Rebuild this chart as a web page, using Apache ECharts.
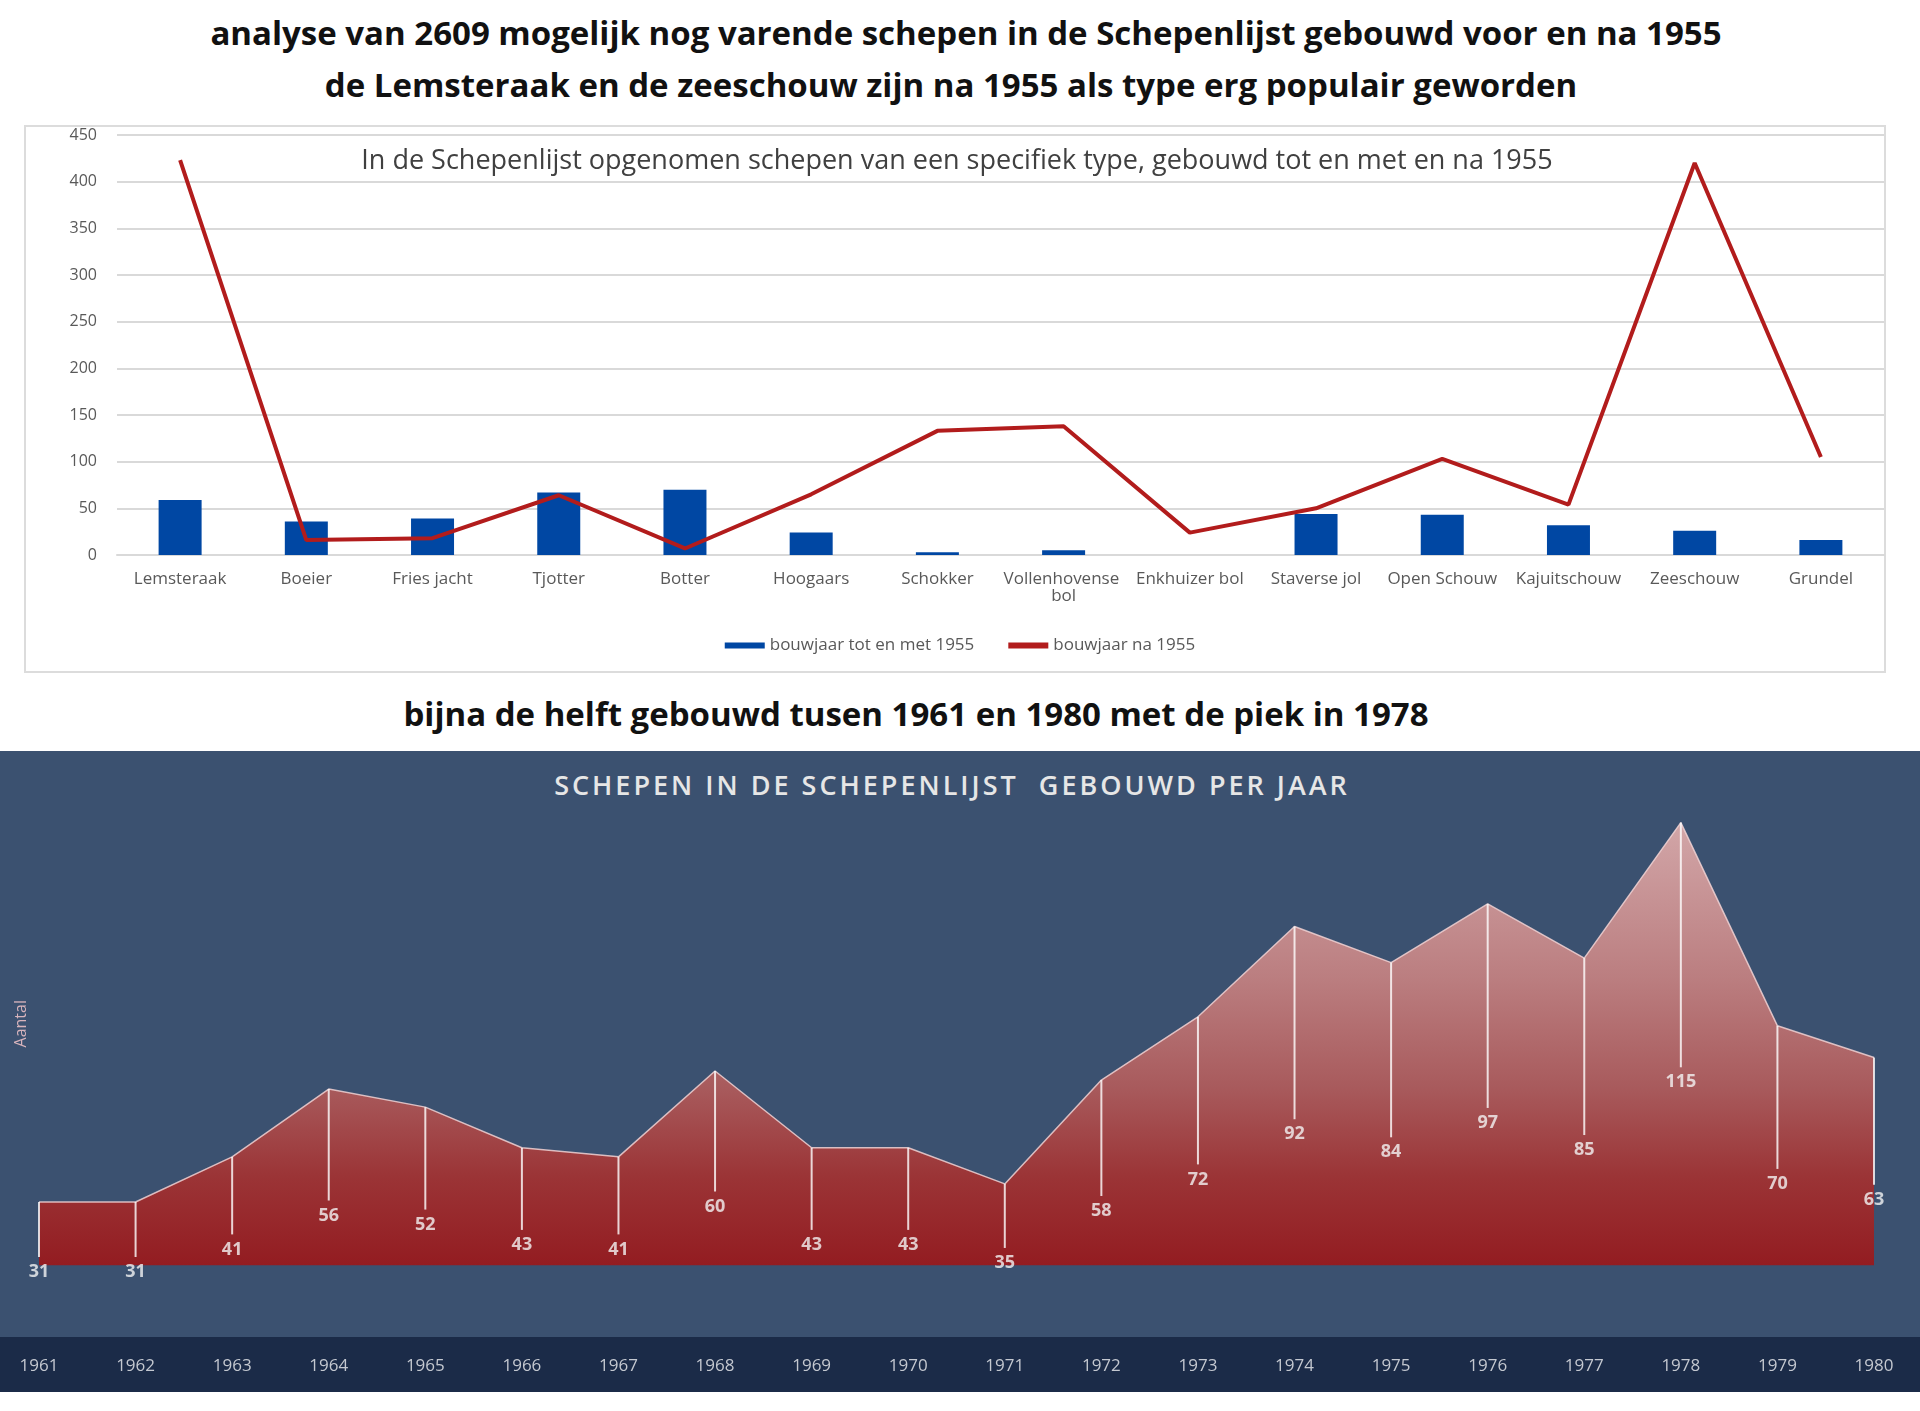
<!DOCTYPE html>
<html>
<head>
<meta charset="utf-8">
<script src="https://cdn.jsdelivr.net/npm/echarts@6/dist/echarts.min.js"></script>
<style>
    body { margin: 0; width: 1920px; height: 1411px; background: #fff; position: relative; overflow: hidden; font-family: "Open Sans", sans-serif; }
    .kop { position: absolute; left: 0; width: 1920px; text-align: center; font-weight: 700; font-size: 33px; color: #111; white-space: nowrap; }
    #kader { position: absolute; left: 24px; top: 125px; width: 1858px; height: 544px; border: 2px solid #dcdcdc; }
    #paneel { position: absolute; left: 0; top: 751px; width: 1920px; height: 641px; background: #3b5170; }
    #band { position: absolute; left: 0; top: 1337px; width: 1920px; height: 55px; background: #1b2b48; }
    #paneelTitel { position: absolute; left: -8px; top: 766px; width: 1920px; text-align: center; font-size: 27px; font-weight: 600; letter-spacing: 3px; color: #e6e6e6; white-space: nowrap; }
    #chart { position: absolute; left: 0; top: 0; width: 1920px; height: 1411px; }
</style>
</head>
<body>
<div class="kop" style="top: 10px; left: 6px;">analyse van 2609 mogelijk nog varende schepen in de Schepenlijst gebouwd voor en na 1955</div>
<div class="kop" style="top: 62px; left: -9px;">de Lemsteraak en de zeeschouw zijn na 1955 als type erg populair geworden</div>
<div id="kader"></div>
<div class="kop" style="top: 691px; left: -44px;">bijna de helft gebouwd tusen 1961 en 1980 met de piek in 1978</div>
<div id="paneel"></div>
<div id="band"></div>
<div id="paneelTitel">SCHEPEN IN DE SCHEPENLIJST&nbsp; GEBOUWD PER JAAR</div>
<div id="chart"></div>
<script>
// scheepstypen (bovenste grafiek)
var typen = ["Lemsteraak", "Boeier", "Fries jacht", "Tjotter", "Botter", "Hoogaars", "Schokker",
    "Vollenhovense bol", "Enkhuizer bol", "Staverse jol", "Open Schouw", "Kajuitschouw", "Zeeschouw", "Grundel"];
var totEnMet1955 = [59, 36, 39, 67, 70, 24, 3, 5, 0, 44, 43, 32, 26, 16];
var na1955 = [423, 16, 18, 64, 7, 65, 133, 138, 24, 50, 103, 54, 420, 105];

// bouwjaren (onderste grafiek)
var jaren = ["1961", "1962", "1963", "1964", "1965", "1966", "1967", "1968", "1969", "1970",
    "1971", "1972", "1973", "1974", "1975", "1976", "1977", "1978", "1979", "1980"];
var aantal = [31, 31, 41, 56, 52, 43, 41, 60, 43, 43, 35, 58, 72, 92, 84, 97, 85, 115, 70, 63];

var grijs = "#595959";
var lijnKleur = "#d9d9d9";

var myChart = echarts.init(document.getElementById("chart"));
var option = {
    animation: false,
    title: [{
        text: "In de Schepenlijst opgenomen schepen van een specifiek type, gebouwd tot en met en na 1955",
        left: 952,
        textAlign: "center",
        top: 143,
        textStyle: { fontFamily: "Open Sans", fontWeight: "normal", fontSize: 27, color: "#404040" }
    }],
    legend: {
        data: [
            { name: "bouwjaar tot en met 1955", icon: "rect" },
            { name: "bouwjaar na 1955", icon: "rect" }
        ],
        left: "center",
        top: 632,
        itemWidth: 40,
        itemHeight: 6,
        itemGap: 34,
        textStyle: { fontFamily: "Open Sans", fontSize: 17, color: grijs }
    },
    graphic: [{
        type: "text",
        left: 13,
        top: 1000,
        rotation: Math.PI / 2,
        style: { text: "Aantal", fill: "#d8b4bc", fontSize: 16, fontFamily: "Open Sans" }
    }],
    grid: [
        { left: 117, right: 36, top: 135, bottom: 856 },
        { left: 39, right: 46, top: 800, bottom: 69 }
    ],
    xAxis: [{
        type: "category",
        gridIndex: 0,
        data: typen,
        axisLine: { lineStyle: { color: lijnKleur, width: 2 } },
        axisTick: { show: false },
        axisLabel: { color: grijs, fontSize: 17, fontFamily: "Open Sans", margin: 16, interval: 0, width: 124, overflow: "break" }
    }, {
        type: "category",
        gridIndex: 1,
        data: jaren,
        boundaryGap: false,
        axisLine: { show: false },
        axisTick: { show: false },
        axisLabel: { color: "#c4c8d0", fontSize: 17, fontFamily: "Open Sans", margin: 16 }
    }],
    yAxis: [{
        type: "value",
        gridIndex: 0,
        min: 0,
        max: 450,
        interval: 50,
        axisLine: { show: false },
        axisTick: { show: false },
        axisLabel: { color: grijs, fontSize: 16, fontFamily: "Open Sans", margin: 20 },
        splitLine: { lineStyle: { color: lijnKleur, width: 2 } }
    }, {
        type: "value",
        gridIndex: 1,
        min: 0,
        max: 120,
        axisLine: { show: false },
        axisTick: { show: false },
        axisLabel: { show: false },
        splitLine: { show: false }
    }],
    series: [{
        name: "bouwjaar tot en met 1955",
        type: "bar",
        xAxisIndex: 0,
        yAxisIndex: 0,
        barWidth: 43,
        itemStyle: { color: "#0047a3" },
        data: totEnMet1955
    }, {
        name: "bouwjaar na 1955",
        type: "line",
        xAxisIndex: 0,
        yAxisIndex: 0,
        symbol: "none",
        lineStyle: { color: "#b21c1c", width: 4 },
        itemStyle: { color: "#b21c1c" },
        data: na1955
    }, {
        name: "per jaar",
        type: "line",
        xAxisIndex: 1,
        yAxisIndex: 1,
        symbol: "none",
        z: 2,
        lineStyle: { color: "rgba(240,210,212,0.85)", width: 1.5 },
        areaStyle: {
            origin: 17,
            opacity: 1,
            color: new echarts.graphic.LinearGradient(0, 0, 0, 1, [
                { offset: 0, color: "#d2a6a8" },
                { offset: 0.35, color: "#bb7e80" },
                { offset: 0.6, color: "#a85a5c" },
                { offset: 0.8, color: "#9b3436" },
                { offset: 1, color: "#931c21" }
            ])
        },
        data: aantal
    }, {
        // verticale lijnen van de punt naar het label
        name: "droplijnen",
        type: "custom",
        xAxisIndex: 1,
        yAxisIndex: 1,
        silent: true,
        z: 10,
        renderItem: function (params, api) {
            var boven = api.coord([api.value(0), api.value(1)]);
            var midden = api.coord([api.value(0), api.value(1) / 2]);
            return {
                type: "line",
                shape: { x1: boven[0], y1: boven[1], x2: midden[0], y2: midden[1] - 15 },
                style: { stroke: "rgba(255,255,255,0.8)", lineWidth: 2 }
            };
        },
        data: aantal.map(function (v, i) { return [i, v]; })
    }, {
        // labels halverwege de hoogte
        name: "labels",
        type: "scatter",
        xAxisIndex: 1,
        yAxisIndex: 1,
        symbolSize: 0,
        silent: true,
        z: 11,
        label: {
            show: true,
            position: "inside",
            color: "#f4f4f4",
            fontSize: 18,
            fontWeight: "bold",
            fontFamily: "Open Sans",
            formatter: function (p) { return aantal[p.dataIndex]; }
        },
        data: aantal.map(function (v, i) { return [i, v / 2]; })
    }]
};
myChart.setOption(option, true);
</script>
</body>
</html>
